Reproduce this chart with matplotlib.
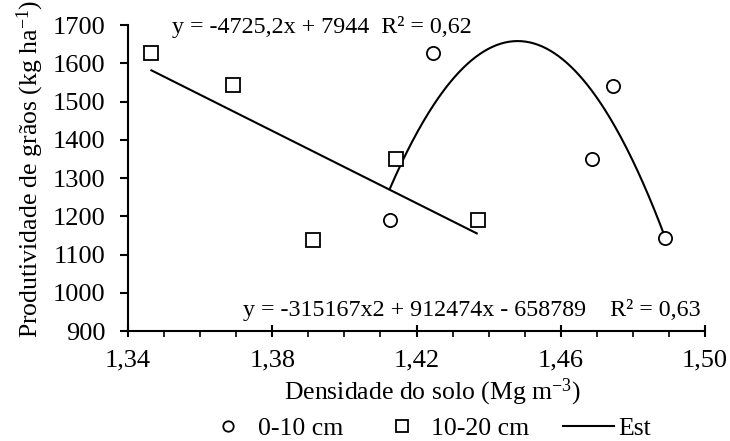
import numpy as np
import matplotlib
matplotlib.use("Agg")
import matplotlib.pyplot as plt
from matplotlib.lines import Line2D

plt.rcParams['font.family'] = ['Liberation Serif', 'DejaVu Serif']
plt.rcParams['mathtext.fontset'] = 'custom'
plt.rcParams['mathtext.rm'] = 'Liberation Serif'
plt.rcParams['mathtext.it'] = 'Liberation Serif:italic'

# Data
depth_0_10_x = [1.4127, 1.4247, 1.4686, 1.4746, 1.4890]
depth_0_10_y = [1190, 1626, 1350, 1540, 1143]
depth_10_20_x = [1.3464, 1.3690, 1.3914, 1.4142, 1.4370]
depth_10_20_y = [1626, 1543, 1138, 1350, 1190]

# Linear trend (equation shown in chart) and its range
lin_coef = [-4725.2, 7944]
lin_range = [1.3465, 1.4367]
# Quadratic "Est" curve: points
quad_pts_x = [1.4127, 1.4479, 1.4890]
quad_pts_y = [1274, 1658, 1143]

eq1 = "y = -4725,2x + 7944  R² = 0,62"
eq2 = "y = -315167x2 + 912474x - 658789    R² = 0,63"
xticks = [1.34, 1.38, 1.42, 1.46, 1.50]
xtick_labels = ["1,34", "1,38", "1,42", "1,46", "1,50"]
yticks = [900, 1000, 1100, 1200, 1300, 1400, 1500, 1600, 1700]

fig = plt.figure(figsize=(7.3, 4.41), dpi=100)
ax = fig.add_axes([0.1753, 0.2494, 0.7905, 0.6939])

fs_tick = 19
fs_lab = 18.5
fs_eq = 17.3
fs_leg = 18.5

ax.plot(depth_0_10_x, depth_0_10_y, linestyle='none', marker='o', markersize=9.5,
        markerfacecolor='white', markeredgecolor='black', markeredgewidth=1.3, zorder=3)
ax.plot(depth_10_20_x, depth_10_20_y, linestyle='none', marker='s', markersize=9.5,
        markerfacecolor='white', markeredgecolor='black', markeredgewidth=1.3, zorder=3)

xl = np.linspace(lin_range[0], lin_range[1], 50)
ax.plot(xl, np.polyval(lin_coef, xl), color='black', lw=1.5, zorder=2)

qc = np.polyfit(quad_pts_x, quad_pts_y, 2)
xq = np.linspace(quad_pts_x[0], quad_pts_x[-1], 200)
ax.plot(xq, np.polyval(qc, xq), color='black', lw=1.5, zorder=2)

ax.set_xlim(1.34, 1.50)
ax.set_ylim(900, 1700)
ax.set_xticks(xticks)
ax.set_xticklabels(xtick_labels, fontsize=fs_tick)
ax.set_xticks(np.arange(1.34, 1.5001, 0.01), minor=True)
ax.set_yticks(yticks)
ax.set_yticklabels([str(v) for v in yticks], fontsize=fs_tick)
ax.tick_params(axis='y', which='major', direction='out', length=6, width=1.5, pad=10)
ax.tick_params(axis='x', which='major', direction='inout', length=8, width=1.5, pad=9)
ax.tick_params(axis='x', which='minor', direction='out', length=4.5, width=1.2)
for s in ['top', 'right']:
    ax.spines[s].set_visible(False)
for s in ['left', 'bottom']:
    ax.spines[s].set_linewidth(1.5)

ax.set_xlabel(r"Densidade do solo (Mg m$\mathregular{^{-3}}$)", fontsize=fs_lab)
ax.set_ylabel(r"Produtividade de grãos (kg ha$\mathregular{^{-1}}$)", fontsize=fs_lab)
ax.xaxis.set_label_coords(0.527, -0.2)
ax.yaxis.set_label_coords(-0.17, 0.53)
ax.xaxis.label.set_va('center')
ax.yaxis.label.set_va('center')

ax.text(1.3522, 1695, eq1, fontsize=fs_eq, ha='left', va='center')
ax.text(1.3719, 955, eq2, fontsize=fs_eq, ha='left', va='center')

handles = [
    Line2D([], [], linestyle='none', marker='o', markersize=7.5, markerfacecolor='white',
           markeredgecolor='black', markeredgewidth=1.3),
    Line2D([], [], linestyle='none', marker='s', markersize=8, markerfacecolor='white',
           markeredgecolor='black', markeredgewidth=1.3),
    Line2D([], [], color='black', lw=1.5),
]
fig.legend(handles, ["0-10 cm", "10-20 cm", "Est"], loc='center', bbox_to_anchor=(0.5845, 0.028),
           ncol=3, frameon=False, fontsize=fs_leg, handlelength=2.0, columnspacing=1.3,
           handletextpad=0.15, borderaxespad=0, borderpad=0)

fig.savefig("out.png", dpi=100)
